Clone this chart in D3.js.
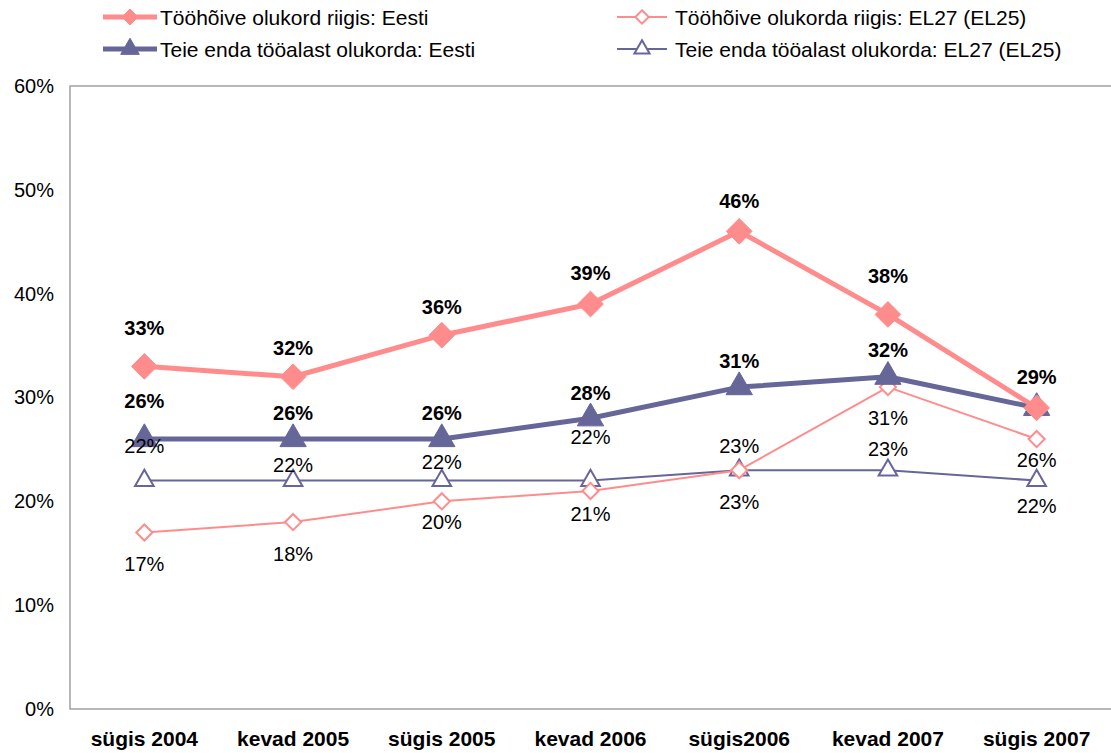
<!DOCTYPE html>
<html>
<head>
<meta charset="utf-8">
<title>Tööhõive olukord</title>
<script src="https://d3js.org/d3.v7.min.js"></script>
<style>
    body { margin: 0; background: #fff; }
    svg { font-family: "Liberation Sans", Arial, sans-serif; }
    .frame { fill: none; stroke: #a0a0a0; stroke-width: 1.5px; }
    .ytick text { font-size: 20px; fill: #000; }
    .xtick text { font-size: 21px; font-weight: bold; fill: #000; }
    .legend text { font-size: 21px; fill: #000; }
    .lbl { font-size: 20px; fill: #000; }
    .lbl.bold { font-weight: bold; }
</style>
</head>
<body>
<script>
    // categories and tick labels
    var periods = ["sügis 2004", "kevad 2005", "sügis 2005", "kevad 2006", "sügis2006", "kevad 2007", "sügis 2007"];
    var yTicks = [0, 10, 20, 30, 40, 50, 60];

    // series values (%)
    var riigisEesti = [33, 32, 36, 39, 46, 38, 29];
    var riigisEL = [17, 18, 20, 21, 23, 31, 26];
    var endaEesti = [26, 26, 26, 28, 31, 32, 29];
    var endaEL = [22, 22, 22, 22, 23, 23, 22];

    // label vertical offsets (px) as placed in the original, null = no label
    var dyRiigisEesti = [-38, -29, -28, -31, -30, -38, -31];
    var dyRiigisEL = [32, 32, 21, 23, 32, 31, 21];
    var dyEndaEesti = [-38, -26, -26, -25, -26, -27, null];
    var dyEndaEL = [-35, -16, -19, -44, -24, -21, 25];

    var pink = "#ff8c8c", purple = "#666699";

    // a diamond is a square turned 45 degrees
    var diamond = {
        draw: function(ctx, size) {
            var r = Math.sqrt(size / 2);
            ctx.moveTo(0, -r);
            ctx.lineTo(r, 0);
            ctx.lineTo(0, r);
            ctx.lineTo(-r, 0);
            ctx.closePath();
        }
    };

    var series = [
        {name: "Tööhõive olukord riigis: Eesti", values: riigisEesti, dy: dyRiigisEesti,
         color: pink, width: 5, symbol: diamond, size: 330, legSize: 130, filled: true, bold: true},
        {name: "Tööhõive olukorda riigis: EL27 (EL25)", values: riigisEL, dy: dyRiigisEL,
         color: pink, width: 2, symbol: diamond, size: 130, legSize: 90, filled: false, bold: false},
        {name: "Teie enda tööalast olukorda: Eesti", values: endaEesti, dy: dyEndaEesti,
         color: purple, width: 5, symbol: d3.symbolTriangle, size: 300, legSize: 150, filled: true, bold: true},
        {name: "Teie enda tööalast olukorda: EL27 (EL25)", values: endaEL, dy: dyEndaEL,
         color: purple, width: 2, symbol: d3.symbolTriangle, size: 150, legSize: 100, filled: false, bold: false}
    ];

    var W = 1111, H = 753;
    var margin = {top: 86, right: 0, bottom: 44, left: 70};

    var svg = d3.select("body").append("svg")
        .attr("width", W)
        .attr("height", H);

    var x = d3.scaleBand()
        .domain(periods)
        .range([margin.left, W - margin.right]);

    var y = d3.scaleLinear()
        .domain([0, 60])
        .range([H - margin.bottom, margin.top]);

    // plot frame
    svg.append("rect")
        .attr("class", "frame")
        .attr("x", margin.left)
        .attr("y", margin.top)
        .attr("width", W - margin.left - margin.right + 2)
        .attr("height", y(0) - margin.top);

    // y axis labels
    var yAxis = d3.axisLeft(y)
        .tickValues(yTicks)
        .tickSize(0)
        .tickPadding(16)
        .tickFormat(function(d) { return d + "%"; });
    svg.append("g")
        .attr("class", "ytick")
        .attr("transform", "translate(" + margin.left + ",0)")
        .call(yAxis)
        .call(function(g) { g.select(".domain").remove(); })
        .selectAll("text").attr("font-family", null).attr("font-size", null);

    // x axis labels
    var xAxis = d3.axisBottom(x).tickSize(0).tickPadding(22);
    svg.append("g")
        .attr("class", "xtick")
        .attr("transform", "translate(0," + y(0) + ")")
        .call(xAxis)
        .call(function(g) { g.select(".domain").remove(); })
        .selectAll("text").attr("font-family", null).attr("font-size", null);

    var cx = function(i) { return x(periods[i]) + x.bandwidth() / 2; };

    var line = d3.line()
        .x(function(d, i) { return cx(i); })
        .y(function(d) { return y(d); });

    // thin series first, thick ones on top
    [3, 1, 2, 0].forEach(function(k) {
        var s = series[k];
        var g = svg.append("g");
        g.append("path")
            .attr("d", line(s.values))
            .attr("fill", "none")
            .attr("stroke", s.color)
            .attr("stroke-width", s.width)
            .attr("stroke-linejoin", "round");
        g.selectAll(".mk")
            .data(s.values)
            .enter().append("path")
            .attr("transform", function(d, i) { return "translate(" + cx(i) + "," + y(d) + ")"; })
            .attr("d", d3.symbol().type(s.symbol).size(s.size))
            .attr("fill", s.filled ? s.color : "#fff")
            .attr("stroke", s.color)
            .attr("stroke-width", s.filled ? 1 : 2);
    });

    // data labels
    series.forEach(function(s) {
        var idx = d3.range(s.values.length).filter(function(i) { return s.dy[i] !== null; });
        svg.append("g").selectAll("text")
            .data(idx)
            .enter().append("text")
            .attr("class", s.bold ? "lbl bold" : "lbl")
            .attr("text-anchor", "middle")
            .attr("dominant-baseline", "central")
            .attr("x", function(i) { return cx(i); })
            .attr("y", function(i) { return y(s.values[i]) + s.dy[i]; })
            .text(function(i) { return s.values[i] + "%"; });
    });

    // legend
    var legendPos = [[103, 17], [617, 17], [103, 49], [617, 49]];
    var legLen = [54, 50, 54, 50];
    var legend = svg.append("g").attr("class", "legend");
    series.forEach(function(s, k) {
        var p = legendPos[k];
        var g = legend.append("g").attr("transform", "translate(" + p[0] + "," + p[1] + ")");
        g.append("line")
            .attr("x1", 0).attr("x2", legLen[k])
            .attr("stroke", s.color)
            .attr("stroke-width", s.width);
        g.append("path")
            .attr("transform", "translate(" + legLen[k] / 2 + ",0)")
            .attr("d", d3.symbol().type(s.symbol).size(s.legSize))
            .attr("fill", s.filled ? s.color : "#fff")
            .attr("stroke", s.color)
            .attr("stroke-width", s.filled ? 1 : 2);
        g.append("text")
            .attr("x", legLen[k] + (k % 2 ? 8 : 3))
            .attr("dominant-baseline", "central")
            .text(s.name);
    });
</script>
</body>
</html>
